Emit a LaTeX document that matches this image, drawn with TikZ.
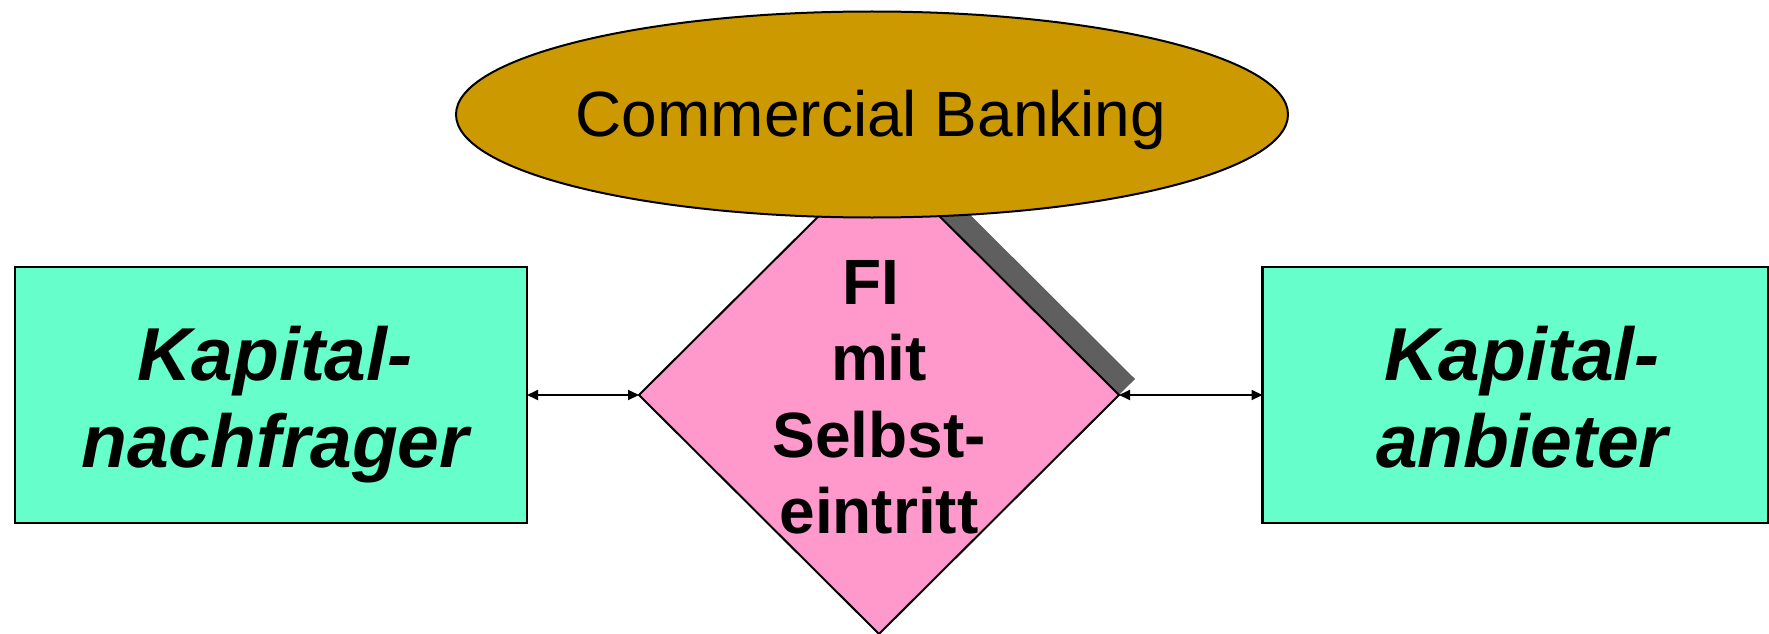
\documentclass[tikz,border=0pt]{standalone}
\usepackage{fontspec}
\setmainfont{Liberation Sans}
\usetikzlibrary{shapes.geometric,shadows,arrows.meta}
\definecolor{bankgold}{HTML}{CC9900}
\definecolor{partygreen}{HTML}{66FFCC}
\definecolor{fipink}{HTML}{FF99CC}
\definecolor{shadegray}{HTML}{5F5F5F}
\begin{document}
\begin{tikzpicture}[x=1pt,y=-1pt,
  party/.style={rectangle, draw=black, line width=2.5pt, fill=partygreen,
    minimum height=256pt, inner sep=0pt, outer sep=0pt},
  partytext/.style={anchor=base, inner sep=0pt,
    font=\fontsize{75}{87}\selectfont\bfseries\itshape},
  fibox/.style={diamond, draw=black, line width=2pt, fill=fipink,
    minimum width=480pt, minimum height=478pt, inner sep=0pt, outer sep=0pt,
    general shadow={fill=shadegray, shadow xshift=16pt, shadow yshift=16pt}},
  fitext/.style={anchor=base, inner sep=0pt,
    font=\fontsize{64}{76}\selectfont\bfseries},
  banking/.style={ellipse, draw=black, line width=2pt, fill=bankgold,
    minimum width=832pt, minimum height=206pt, inner sep=0pt, outer sep=0pt},
  bankingtext/.style={anchor=base, inner sep=0pt,
    font=\fontsize{64}{74}\selectfont},
  link/.style={line width=2pt,
    {Triangle[length=11pt,width=10pt]}-{Triangle[length=11pt,width=10pt]}}
]
\useasboundingbox (0,0) rectangle (1769,634);

% market participants
\node[party, minimum width=512pt] (nachfrager) at (271,395) {};
\node[party, minimum width=506pt] (anbieter) at (1515.5,395) {};
\node[partytext] (nachfrager1) at (275,380) {Kapital-};
\node[partytext] (nachfrager2) at (275,467) {nachfrager};
\node[partytext] (anbieter1) at (1522,380) {Kapital-};
\node[partytext] (anbieter2) at (1522,467) {anbieter};

% financial intermediary
\node[fibox] (fi) at (879,395) {};

% business line
\node[banking] (cb) at (872,114.5) {};
\node[bankingtext] (cbtext) at (871,136) {Commercial Banking};

\node[fitext] (fi1) at (871,304) {FI};
\node[fitext] (fi2) at (879,380) {mit};
\node[fitext] (fi3) at (879,457) {Selbst-};
\node[fitext] (fi4) at (879,533) {eintritt};

% capital flows
\draw[link] (nachfrager.east) -- (fi.west);
\draw[link] (fi.east) -- (anbieter.west);
\end{tikzpicture}
\end{document}
